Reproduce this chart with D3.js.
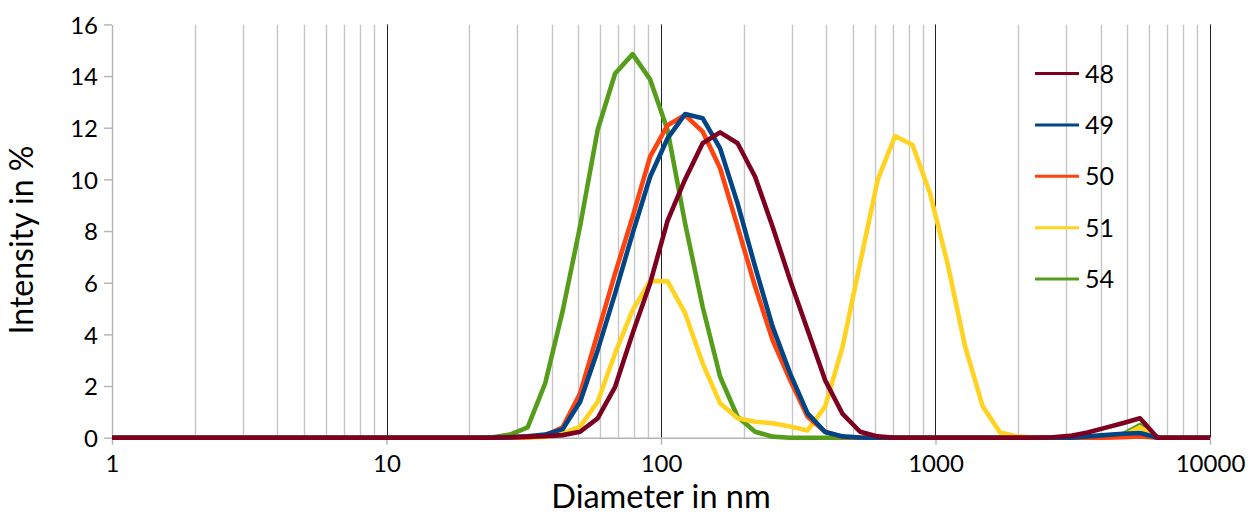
<!DOCTYPE html>
<html>
<head>
<meta charset="utf-8">
<script src="https://cdn.jsdelivr.net/npm/d3@7"></script>
<style>
  body { margin: 0; background: #fff; }
  svg text { font-family: Lato, "Open Sans", sans-serif; fill: #000; }
</style>
</head>
<body>
<div id="chart"></div>
<script>

// size classes (nm), log spaced
var sizes = [
  0.9649, 1.117, 1.294, 1.499, 1.736, 2.01, 2.328, 2.696, 3.122, 3.615,
  4.187, 4.849, 5.615, 6.503, 7.531, 8.721, 10.1, 11.7, 13.54, 15.69,
  18.17, 21.04, 24.36, 28.21, 32.67, 37.84, 43.82, 50.75, 58.77, 68.06,
  78.82, 91.28, 105.7, 122.4, 141.8, 164.2, 190.1, 220.2, 255, 295.3,
  342, 396.1, 458.7, 531.2, 615.1, 712.4, 825, 955.4, 1106, 1281,
  1484, 1718, 1990, 2305, 2669, 3091, 3580, 4145, 4801, 5560,
  6439, 7456, 8635, 10000
];

// intensity in % per sample
var s48 = [
  0, 0, 0, 0, 0, 0, 0, 0, 0, 0,
  0, 0, 0, 0, 0, 0, 0, 0, 0, 0,
  0, 0, 0, 0.02, 0.04, 0.06, 0.1, 0.23, 0.75, 1.97,
  4.04, 5.98, 8.4, 10.0, 11.4, 11.82, 11.4, 10.1, 8.17, 6.1,
  4.17, 2.23, 0.92, 0.23, 0.05, 0, 0, 0, 0, 0,
  0, 0, 0, 0, 0.02, 0.07, 0.2, 0.38, 0.56, 0.75,
  0, 0, 0, 0
];
var s49 = [
  0, 0, 0, 0, 0, 0, 0, 0, 0, 0,
  0, 0, 0, 0, 0, 0, 0, 0, 0, 0,
  0, 0, 0.01, 0.02, 0.05, 0.12, 0.33, 1.39, 3.38, 5.59,
  7.91, 10.1, 11.59, 12.53, 12.37, 11.2, 9.07, 6.62, 4.3, 2.49,
  0.94, 0.22, 0.05, 0.01, 0, 0, 0, 0, 0, 0,
  0, 0, 0, 0, 0, 0, 0.05, 0.1, 0.15, 0.18,
  0, 0, 0, 0
];
var s50 = [
  0, 0, 0, 0, 0, 0, 0, 0, 0, 0,
  0, 0, 0, 0, 0, 0, 0, 0, 0, 0,
  0, 0, 0, 0, 0.02, 0.08, 0.4, 1.72, 4.04, 6.36,
  8.56, 10.88, 12.1, 12.49, 11.85, 10.43, 8.17, 5.85, 3.78, 2.23,
  0.81, 0.23, 0.03, 0, 0, 0, 0, 0, 0, 0,
  0, 0, 0, 0, 0, 0, 0, 0, 0.02, 0.05,
  0, 0, 0, 0
];
var s51 = [
  0, 0, 0, 0, 0, 0, 0, 0, 0, 0,
  0, 0, 0, 0, 0, 0, 0, 0, 0, 0,
  0, 0, 0, 0, 0, 0.03, 0.17, 0.43, 1.39, 3.27,
  4.94, 6.07, 6.05, 4.82, 2.88, 1.33, 0.75, 0.62, 0.56, 0.43,
  0.28, 1.2, 3.52, 6.75, 9.97, 11.68, 11.33, 9.45, 6.75, 3.55,
  1.23, 0.2, 0.05, 0.01, 0, 0, 0, 0, 0.06, 0.4,
  0, 0, 0, 0
];
var s54 = [
  0, 0, 0, 0, 0, 0, 0, 0, 0, 0,
  0, 0, 0, 0, 0, 0, 0, 0, 0, 0,
  0, 0, 0.02, 0.12, 0.4, 2.1, 4.9, 8.2, 11.91, 14.1,
  14.85, 13.87, 11.9, 8.3, 5.07, 2.36, 0.81, 0.23, 0.04, 0,
  0, 0, 0, 0, 0, 0, 0, 0, 0, 0,
  0, 0, 0, 0, 0, 0, 0, 0.02, 0.12, 0.49,
  0, 0, 0, 0
];

var seriesNames = ["48", "49", "50", "51", "54"];
var seriesValues = [s48, s49, s50, s51, s54];
var seriesColors = ["#7e0021", "#004586", "#ff420e", "#ffd320", "#579d1c"];

var xTicks = [1, 10, 100, 1000, 10000];
var yTicks = [0, 2, 4, 6, 8, 10, 12, 14, 16];

// set the dimensions and margins of the graph
var W = 1252, H = 515;
var margin = { top: 24.4, right: 42, bottom: 77.3, left: 112 };
var width = W - margin.left - margin.right;
var height = H - margin.top - margin.bottom;

var svg = d3.select("#chart")
  .append("svg")
  .attr("width", W)
  .attr("height", H)
  .append("g")
  .attr("transform", "translate(" + margin.left + "," + margin.top + ")");

var x = d3.scaleLog()
  .domain([1, 10000])
  .range([0, width]);

var y = d3.scaleLinear()
  .domain([0, 16])
  .range([height, 0]);

svg.append("defs").append("clipPath")
  .attr("id", "plotclip")
  .append("rect")
  .attr("x", 0).attr("y", -5)
  .attr("width", width).attr("height", height + 10);

// minor vertical grid lines
var minor = [];
for (var dec = 1; dec < 10000; dec *= 10) {
  for (var m = 2; m <= 9; m++) minor.push(dec * m);
}
svg.selectAll(".minor")
  .data(minor)
  .enter()
  .append("line")
  .attr("class", "minor")
  .attr("x1", function (d) { return Math.round(x(d)) + 0.5; })
  .attr("x2", function (d) { return Math.round(x(d)) + 0.5; })
  .attr("y1", 0)
  .attr("y2", height)
  .attr("stroke", "#c6c6c6")
  .attr("stroke-width", 1.4);

// decade grid lines
svg.selectAll(".major")
  .data(xTicks.slice(1))
  .enter()
  .append("line")
  .attr("class", "major")
  .attr("x1", function (d) { return Math.round(x(d)) + 0.5; })
  .attr("x2", function (d) { return Math.round(x(d)) + 0.5; })
  .attr("y1", 0)
  .attr("y2", height)
  .attr("stroke", "#222")
  .attr("stroke-width", 1);

// Y axis
var yAxis = svg.append("g")
  .call(d3.axisLeft(y).tickValues(yTicks).tickSize(8).tickPadding(6).tickSizeOuter(0));
yAxis.select(".domain").attr("stroke", "#b3b3b3").attr("stroke-width", 1.4);
yAxis.selectAll(".tick line").attr("stroke", "#b3b3b3").attr("stroke-width", 1.4);
yAxis.selectAll(".tick text")
  .style("font-size", "24px")
  .style("font-family", "Lato, sans-serif")
  .attr("dy", "0.36em");

// X axis
var xAxis = svg.append("g")
  .attr("transform", "translate(0," + height + ")")
  .call(d3.axisBottom(x).tickValues(xTicks).tickFormat(d3.format("d")).tickSize(7).tickPadding(10).tickSizeOuter(0));
xAxis.select(".domain").attr("stroke", "#b3b3b3").attr("stroke-width", 1.4);
xAxis.selectAll(".tick line").attr("stroke", "#b3b3b3").attr("stroke-width", 1.4);
xAxis.selectAll(".tick text")
  .style("font-size", "24px")
  .style("font-family", "Lato, sans-serif");

// lines
var line = d3.line()
  .x(function (d) { return x(d[0]); })
  .y(function (d) { return y(d[1]); });

var order = [4, 3, 2, 1, 0];
svg.append("g")
  .attr("clip-path", "url(#plotclip)")
  .selectAll(".series")
  .data(order)
  .enter()
  .append("path")
  .attr("class", "series")
  .attr("fill", "none")
  .attr("stroke", function (i) { return seriesColors[i]; })
  .attr("stroke-width", 4.6)
  .attr("stroke-linejoin", "round")
  .attr("d", function (i) {
    return line(sizes.map(function (s, k) { return [s, seriesValues[i][k]]; }));
  });

// legend
var legend = svg.append("g")
  .attr("transform", "translate(" + (1035 - margin.left) + "," + (73.5 - margin.top) + ")");
var items = legend.selectAll(".item")
  .data(seriesNames)
  .enter()
  .append("g")
  .attr("transform", function (d, i) { return "translate(0," + (i * 51.4) + ")"; });
items.append("line")
  .attr("x1", 0).attr("x2", 44)
  .attr("stroke", function (d, i) { return seriesColors[i]; })
  .attr("stroke-width", 3);
items.append("text")
  .attr("x", 50)
  .attr("dy", "0.36em")
  .style("font-size", "25px")
  .text(function (d) { return d; });

// axis titles
svg.append("text")
  .attr("x", width / 2)
  .attr("y", height + 70)
  .attr("text-anchor", "middle")
  .style("font-size", "32.5px")
  .text("Diameter in nm");

svg.append("text")
  .attr("transform", "translate(" + (-79) + "," + (height / 2 + 9) + ") rotate(-90)")
  .attr("text-anchor", "middle")
  .style("font-size", "32px")
  .text("Intensity in %");

</script>
</body>
</html>
